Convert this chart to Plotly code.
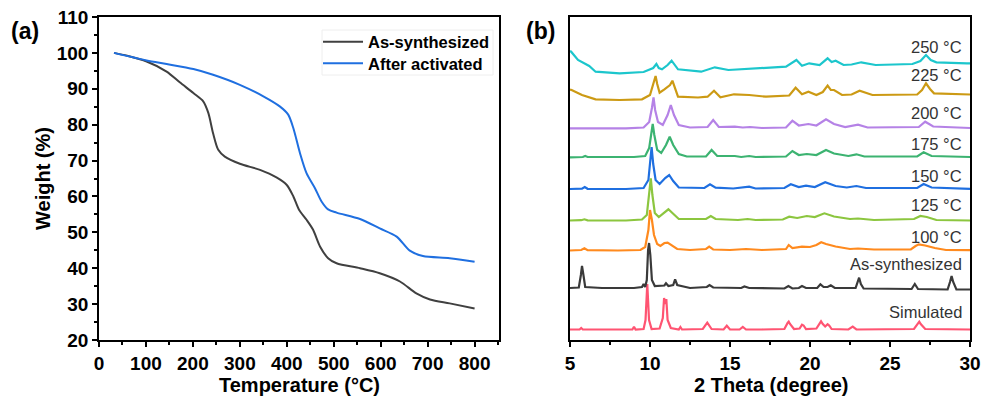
import plotly.graph_objects as go

# ---------------- (a) TGA curves ----------------
AS_SYN_TEMP = [32, 60, 101.5, 144, 172, 201, 222, 233, 243, 254, 268, 300, 343, 378, 400,
               414, 426, 442, 456, 471, 488, 506, 556, 598, 641, 676, 705, 747, 800]
AS_SYN_WEIGHT = [100, 99.2, 97.6, 94.8, 91.8, 88.8, 86.5, 83.2, 77.6, 73.0, 71.1, 69.1, 67.4, 65.3, 63.2,
                 60.0, 56.3, 53.5, 50.7, 46.0, 42.8, 41.4, 40.0, 38.6, 36.3, 33.0, 31.3, 30.2, 28.8]

ACTIVATED_TEMP = [32, 101.5, 144, 201, 243, 300, 350, 385, 403, 414, 428, 442, 460, 474, 488,
                  506, 556, 598, 634, 662, 690, 747, 800]
ACTIVATED_WEIGHT = [100, 97.9, 96.9, 95.5, 93.9, 91.1, 87.9, 85.1, 82.8, 79.0, 72.1, 66.5, 62.3, 58.6, 56.4,
                    55.5, 53.7, 51.1, 48.8, 44.9, 43.4, 42.8, 41.8]

TGA_X_TICKS = [0, 100, 200, 300, 400, 500, 600, 700, 800]
TGA_Y_TICKS = [20, 30, 40, 50, 60, 70, 80, 90, 100, 110]

# ---------------- (b) PXRD patterns (stacked, a.u.) ----------------
SIMULATED = [(5.0, 10.5), (5.6, 10.5), (5.7, 12), (5.8, 10.5), (7.0, 10.5), (8.9, 10.5), (9.0, 13.3),
             (9.1, 10.5), (9.6, 11), (9.72, 20), (9.83, 56), (9.94, 20), (10.1, 11), (10.6, 11.5),
             (10.8, 22), (10.88, 42), (10.95, 36), (11.02, 41), (11.1, 20), (11.3, 12), (11.8, 10.5),
             (11.9, 13), (12.0, 10.5), (13.3, 11), (13.58, 17.3), (13.85, 11), (14.6, 10.5), (14.8, 14.3),
             (15.0, 10.5), (15.6, 10.5), (15.8, 13), (16.0, 10.5), (17.0, 10.5), (18.4, 11), (18.6, 17),
             (18.67, 18.3), (18.75, 16), (19.0, 11), (19.35, 11.5), (19.5, 15.3), (19.6, 14.5),
             (19.75, 11), (20.4, 11.5), (20.6, 17.5), (20.69, 18.7), (20.8, 16), (20.95, 13.5),
             (21.1, 15.7), (21.2, 14.5), (21.35, 11), (22.4, 10.5), (22.67, 13.3), (22.9, 10.5),
             (26.5, 11), (26.75, 16.5), (26.83, 18.3), (26.92, 16), (27.2, 11), (30.0, 10.5)]

AS_SYNTHESIZED = [(5.0, 52), (5.55, 52.5), (5.68, 65), (5.75, 74), (5.83, 66), (5.95, 53), (7.0, 52),
                  (9.0, 52), (9.5, 53), (9.6, 56), (9.7, 53), (9.8, 60), (9.88, 90), (9.94, 97),
                  (10.02, 85), (10.12, 60), (10.3, 54), (10.9, 54.5), (11.0, 56.7), (11.15, 54),
                  (11.45, 55), (11.57, 60.7), (11.7, 55), (12.5, 52), (13.55, 53), (13.72, 55),
                  (13.95, 52.5), (15.7, 52), (15.9, 53.5), (16.2, 52), (18.4, 51.5), (18.65, 54),
                  (18.9, 51.5), (19.3, 52), (19.5, 54), (19.75, 52), (20.45, 52), (20.65, 55.7),
                  (20.85, 53), (21.1, 53), (21.3, 54.7), (21.55, 52), (22.85, 52), (22.98, 57),
                  (23.07, 62.3), (23.18, 56), (23.35, 51.5), (26.35, 51), (26.55, 56), (26.75, 51),
                  (28.6, 50.5), (28.75, 58), (28.85, 64), (28.95, 58), (29.15, 50.5), (30.0, 50.5)]

T100 = [(5.0, 89.5), (5.7, 90), (5.9, 91.7), (6.1, 89.8), (8.0, 89.5), (9.4, 90), (9.7, 93), (9.9, 110),
        (10.0, 130), (10.12, 120), (10.25, 105), (10.45, 96), (10.65, 94), (10.9, 97), (11.1, 97.3),
        (11.35, 95), (11.7, 91), (12.5, 90), (13.5, 91), (13.7, 93.3), (13.95, 90.5), (15.0, 90),
        (16.0, 91), (17.0, 90), (18.5, 91), (18.67, 95), (18.9, 92), (19.5, 93.3), (20.0, 93),
        (20.4, 95), (20.7, 97.7), (21.0, 96), (21.6, 93.5), (22.5, 91), (23.0, 91.5), (24.0, 90.5),
        (26.3, 90.5), (26.6, 94), (26.8, 95.7), (27.2, 94.5), (27.8, 92), (28.5, 90), (30.0, 89.8)]

T125 = [(5.0, 119.5), (5.7, 119.8), (5.9, 120.7), (6.1, 119.6), (8.5, 119.5), (9.5, 120.5), (9.8, 125),
        (9.95, 145), (10.05, 161.7), (10.15, 145), (10.3, 127), (10.55, 123), (10.9, 128),
        (11.15, 130.7), (11.4, 127), (11.8, 121), (13.5, 121), (13.8, 124), (14.1, 121), (15.5, 120),
        (16.1, 121), (16.6, 120), (18.3, 120.5), (18.7, 123.3), (19.2, 122), (19.8, 124), (20.3, 123),
        (20.9, 126.7), (21.5, 123.5), (22.5, 121), (23.0, 121.5), (24.0, 120), (26.5, 121),
        (26.9, 124), (27.3, 123), (27.9, 120), (30.0, 119.5)]

T150 = [(5.0, 151), (5.75, 151.3), (5.92, 153), (6.1, 151.2), (8.5, 151), (9.6, 152), (9.9, 160),
        (10.02, 180), (10.1, 193), (10.2, 176), (10.35, 160), (10.6, 156), (10.95, 162), (11.2, 165),
        (11.45, 159), (11.8, 152.5), (13.4, 152), (13.75, 155.7), (14.1, 152.3), (15.2, 151.5),
        (16.2, 153.3), (16.6, 151.5), (18.4, 152), (18.8, 155.7), (19.3, 153), (19.75, 154.3),
        (20.3, 153), (20.95, 157.7), (21.6, 154), (22.3, 152.5), (22.9, 154), (23.5, 152),
        (26.7, 152), (27.1, 156), (27.6, 152.5), (30.0, 151.2)]

T175 = [(5.0, 182.7), (5.8, 183), (5.95, 184), (6.1, 183), (9.0, 183), (9.7, 184), (9.95, 192),
        (10.08, 205), (10.17, 216), (10.27, 205), (10.45, 190), (10.7, 187), (11.0, 195),
        (11.23, 203.3), (11.45, 195), (11.8, 186), (12.3, 183.5), (13.5, 183.5), (13.85, 190),
        (14.2, 184), (15.3, 184), (15.7, 183), (16.2, 184), (16.6, 183), (18.5, 183.5), (18.9, 189),
        (19.3, 185), (19.8, 186), (20.4, 185), (21.0, 190), (21.5, 186.5), (22.4, 184), (22.9, 185.7),
        (23.4, 183.5), (26.7, 183.5), (27.1, 187.7), (27.6, 184), (30.0, 183)]

T200 = [(5.0, 211.7), (8.5, 211.7), (9.6, 212.5), (9.95, 218), (10.12, 232), (10.22, 242.7),
        (10.32, 230), (10.5, 218), (10.8, 215), (11.1, 225), (11.3, 235), (11.5, 225), (11.8, 215),
        (12.5, 212.5), (13.6, 213), (13.95, 220), (14.3, 213), (15.3, 213.3), (15.8, 212.5),
        (16.25, 213), (17.0, 212), (18.5, 212.5), (18.9, 219.3), (19.3, 214.5), (19.9, 216),
        (20.4, 214.5), (21.0, 220.7), (21.5, 216), (22.2, 213), (23.0, 215.3), (23.6, 212.5),
        (26.8, 213), (27.2, 218.3), (27.7, 213.5), (30.0, 212)]

T225 = [(5.0, 250.5), (5.1, 250), (5.75, 245), (6.6, 240.7), (8.1, 240), (9.5, 240.7), (10.0, 245),
        (10.25, 258), (10.35, 264), (10.45, 256), (10.6, 247.3), (10.9, 250.7), (11.25, 255),
        (11.4, 259.3), (11.55, 253), (11.75, 243.3), (13.0, 242.5), (13.6, 243.3), (14.0, 249.3),
        (14.4, 242.7), (15.25, 245.7), (16.2, 245), (17.25, 243.3), (18.7, 244.5), (19.1, 252.3),
        (19.5, 245.7), (19.9, 248.3), (20.4, 245), (20.8, 248), (21.1, 254.3), (21.3, 250),
        (21.5, 250), (22.0, 245), (22.6, 245.5), (23.1, 249.3), (23.9, 245), (26.7, 245.5),
        (27.0, 250), (27.25, 256.7), (27.5, 251), (27.75, 246.7), (29.7, 245.7), (30.0, 245.5)]

T250 = [(5.0, 289), (5.07, 288.3), (5.5, 280), (6.2, 274), (6.6, 268.3), (8.1, 266.7), (9.6, 268),
        (9.8, 269.3), (10.2, 272), (10.4, 276), (10.55, 272), (10.75, 270.7), (11.1, 275),
        (11.35, 279.3), (11.55, 275), (11.75, 270.7), (13.2, 268.3), (14.05, 272.7), (14.9, 270),
        (17.3, 272.7), (18.5, 273.3), (19.15, 280), (19.5, 274.3), (19.95, 276.7), (20.6, 275),
        (21.1, 281.7), (21.35, 278), (21.6, 279.3), (22.1, 275), (22.6, 275.5), (23.2, 277.7),
        (24.1, 275), (26.4, 276), (26.9, 279), (27.25, 285), (27.55, 280), (27.9, 277.7),
        (29.8, 276.7), (30.0, 276.7)]

XRD_NAMES = ["Simulated", "As-synthesized", "100 °C", "125 °C", "150 °C",
             "175 °C", "200 °C", "225 °C", "250 °C"]
XRD_PATTERNS = [SIMULATED, AS_SYNTHESIZED, T100, T125, T150, T175, T200, T225, T250]
XRD_LABEL_Y = [28.3, 76, 103, 135, 164, 196, 227, 265, 293.3]
XRD_X_TICKS = [5, 10, 15, 20, 25, 30]

XRD_COLORS = ["#ff5472", "#3a3a3a", "#ff8a1e", "#8cc63f", "#1f6fe0",
              "#3cb371", "#b582e6", "#cc9a14", "#1cc6cc"]

FONT = "Liberation Sans, Arial, sans-serif"
W, H = 988, 403


def px_x(p):
    return p / W


def px_y(p):
    return 1 - p / H


fig = go.Figure()

fig.add_trace(go.Scatter(x=AS_SYN_TEMP, y=AS_SYN_WEIGHT, mode="lines", name="As-synthesized",
                         line=dict(color="#404040", width=2, shape="spline", smoothing=0.8),
                         xaxis="x", yaxis="y", legend="legend"))
fig.add_trace(go.Scatter(x=ACTIVATED_TEMP, y=ACTIVATED_WEIGHT, mode="lines", name="After activated",
                         line=dict(color="#1f6fe0", width=2, shape="spline", smoothing=0.8),
                         xaxis="x", yaxis="y", legend="legend2"))

for name, pts, color in zip(XRD_NAMES, XRD_PATTERNS, XRD_COLORS):
    xs = [p[0] for p in pts]
    ys = [p[1] for p in pts]
    fig.add_trace(go.Scatter(x=xs, y=ys, mode="lines", name=name, showlegend=False,
                             line=dict(color=color, width=2.2), xaxis="x2", yaxis="y2"))

annotations = []
for name, ly in zip(XRD_NAMES, XRD_LABEL_Y):
    annotations.append(dict(x=29.6, y=ly, xref="x2", yref="y2", text=name, showarrow=False,
                            xanchor="right", yanchor="middle",
                            font=dict(family=FONT, size=16.5, color="#333333")))

bold = dict(family=FONT, size=20, color="black", weight="bold")
annotations += [
    dict(x=px_x(25), y=px_y(31), xref="paper", yref="paper", text="(a)", showarrow=False,
         xanchor="center", yanchor="middle", font=dict(family=FONT, size=23, color="black", weight="bold")),
    dict(x=px_x(540), y=px_y(31), xref="paper", yref="paper", text="(b)", showarrow=False,
         xanchor="center", yanchor="middle", font=dict(family=FONT, size=23, color="black", weight="bold")),
    dict(x=px_x(43), y=px_y(179), xref="paper", yref="paper", text="Weight (%)", showarrow=False,
         textangle=-90, xanchor="center", yanchor="middle", font=bold),
    dict(x=px_x(299), y=px_y(385), xref="paper", yref="paper", text="Temperature (°C)",
         showarrow=False, xanchor="center", yanchor="middle", font=bold),
    dict(x=px_x(771), y=px_y(385), xref="paper", yref="paper", text="2 Theta (degree)",
         showarrow=False, xanchor="center", yanchor="middle", font=bold),
]

ydom = [px_y(340), px_y(17)]
axis_common = dict(showline=True, linecolor="black", linewidth=1.5, mirror=True, showgrid=False,
                   zeroline=False, ticks="outside", ticklen=5, tickwidth=1.5, tickcolor="black",
                   automargin=False,
                   tickfont=dict(family=FONT, size=19, color="black", weight="bold"))

legend_common = dict(xanchor="left", yanchor="middle", bgcolor="rgba(0,0,0,0)", borderwidth=0,
                     itemwidth=40, font=dict(family=FONT, size=16.5, color="black", weight="bold"))

fig.update_layout(
    width=W, height=H, margin=dict(l=0, r=0, t=0, b=0, pad=0, autoexpand=False),
    paper_bgcolor="white", plot_bgcolor="white",
    xaxis=dict(domain=[px_x(99), px_x(499)], range=[0, 852], tickvals=TGA_X_TICKS,
               minor=dict(dtick=50, ticklen=3, ticks="outside", tickcolor="black", tickwidth=1.5),
               anchor="y", **axis_common),
    yaxis=dict(domain=ydom, range=[20, 110], tickvals=TGA_Y_TICKS,
               minor=dict(dtick=5, ticklen=3, ticks="outside", tickcolor="black", tickwidth=1.5),
               anchor="x", **axis_common),
    xaxis2=dict(domain=[px_x(570), px_x(970)], range=[5, 30], tickvals=XRD_X_TICKS,
                minor=dict(dtick=2.5, ticklen=3, ticks="outside", tickcolor="black", tickwidth=1.5),
                anchor="y2", **axis_common),
    yaxis2=dict(domain=ydom, range=[0, 323], anchor="x2", showline=True, linecolor="black",
                linewidth=1.5, mirror=True, showgrid=False, zeroline=False, showticklabels=False,
                ticks="", automargin=False),
    legend=dict(x=px_x(318), y=px_y(42), **legend_common),
    legend2=dict(x=px_x(318), y=px_y(63.5), **legend_common),
    shapes=[dict(type="rect", xref="paper", yref="paper",
                 x0=px_x(322), x1=px_x(493), y0=px_y(75), y1=px_y(30),
                 line=dict(color="#eeeeee", width=1), fillcolor="white", layer="below")],
    annotations=annotations,
)

fig.write_html("out.html")
